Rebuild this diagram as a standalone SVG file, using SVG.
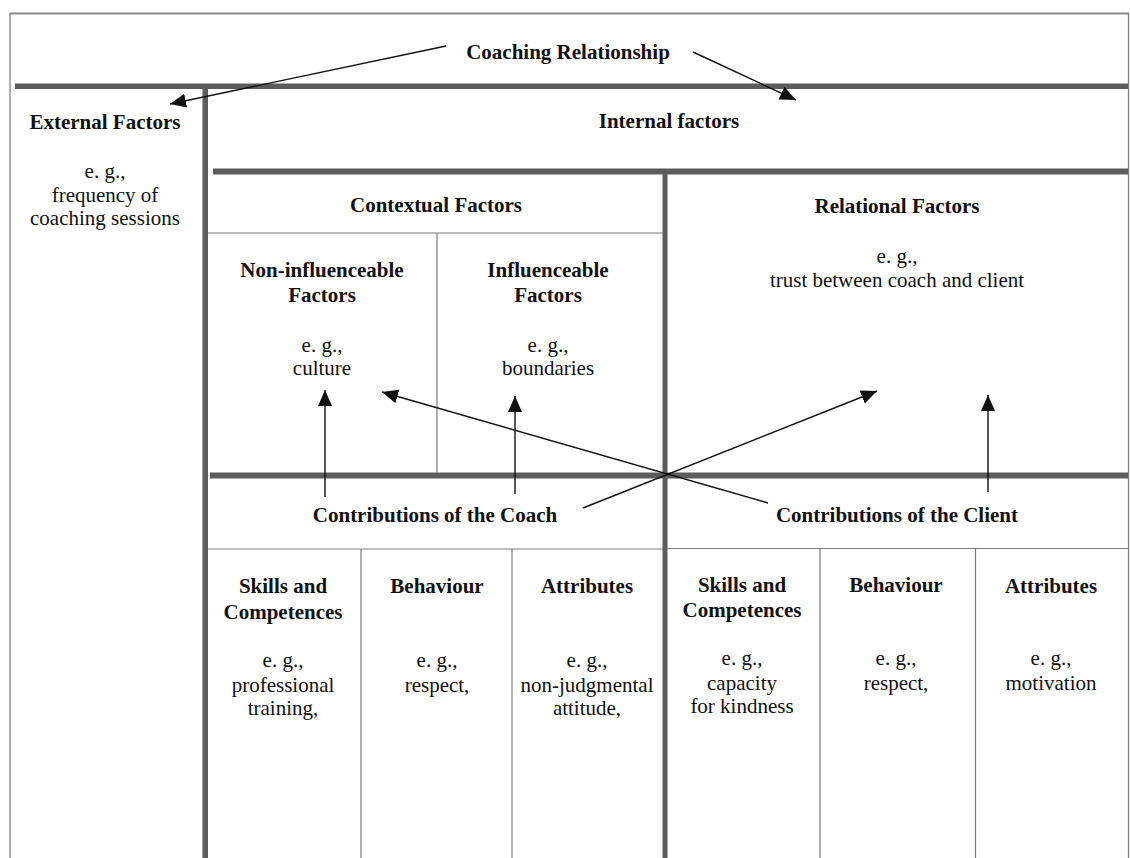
<svg xmlns="http://www.w3.org/2000/svg" width="1130" height="858" viewBox="0 0 1130 858">
<style>
.bar{fill:#5c5c5c}
.thin{stroke:#7a7a7a;stroke-width:1.2;fill:none}
text{font-family:'Liberation Serif','Tinos','DejaVu Serif','Times New Roman',serif;font-size:21px;fill:#111;text-anchor:middle}
.h{font-weight:bold}
.arr{stroke:#111;stroke-width:1.4;fill:none;marker-end:url(#ah)}
</style>
<defs>
<marker id="ah" markerUnits="userSpaceOnUse" markerWidth="17" markerHeight="15" refX="16" refY="7" orient="auto">
<path d="M0,0 L16,7 L0,14 z" fill="#111"/>
</marker>
</defs>
<rect width="1130" height="858" fill="#fff"/>
<g id="frame">
<line x1="10" y1="13.5" x2="1129" y2="13.5" stroke="#888" stroke-width="2"/>
<line class="thin" x1="10" y1="13" x2="10" y2="858"/>
<line class="thin" x1="1128.5" y1="13" x2="1128.5" y2="858"/>
<rect class="bar" x="15" y="83.5" width="1113" height="5.5"/>
<rect class="bar" x="202.5" y="89" width="5.5" height="769"/>
<rect class="bar" x="213" y="168.5" width="915" height="6"/>
<rect class="bar" x="662.5" y="174" width="5" height="684"/>
<rect class="bar" x="210" y="472.5" width="918" height="6"/>
<line class="thin" x1="208" y1="233" x2="663" y2="233"/>
<line class="thin" x1="437" y1="233" x2="437" y2="472.5"/>
<line class="thin" x1="208" y1="549" x2="663" y2="549"/>
<line class="thin" x1="667" y1="548.5" x2="1128" y2="548.5"/>
<line class="thin" x1="361" y1="549" x2="361" y2="858"/>
<line class="thin" x1="512" y1="549" x2="512" y2="858"/>
<line class="thin" x1="820" y1="548.5" x2="820" y2="858"/>
<line class="thin" x1="975.5" y1="548.5" x2="975.5" y2="858"/>
</g>
<g id="coaching-relationship"><text class="h" x="568" y="59">Coaching Relationship</text></g>
<g id="external-factors">
<text class="h" x="105" y="129">External Factors</text>
<text x="105" y="178">e. g.,</text>
<text x="105" y="202">frequency of</text>
<text x="105" y="225">coaching sessions</text>
</g>
<g id="internal-factors"><text class="h" x="669" y="128">Internal factors</text></g>
<g id="contextual-factors"><text class="h" x="436" y="212">Contextual Factors</text></g>
<g id="relational-factors">
<text class="h" x="897" y="213">Relational Factors</text>
<text x="897" y="263">e. g.,</text>
<text x="897" y="287">trust between coach and client</text>
</g>
<g id="non-influenceable">
<text class="h" x="322" y="277">Non-influenceable</text>
<text class="h" x="322" y="302">Factors</text>
<text x="322" y="352">e. g.,</text>
<text x="322" y="375">culture</text>
</g>
<g id="influenceable">
<text class="h" x="548" y="277">Influenceable</text>
<text class="h" x="548" y="302">Factors</text>
<text x="548" y="352">e. g.,</text>
<text x="548" y="375">boundaries</text>
</g>
<g id="coach"><text class="h" x="435" y="522">Contributions of the Coach</text></g>
<g id="client"><text class="h" x="897" y="522">Contributions of the Client</text></g>
<g id="coach-skills">
<text class="h" x="283" y="593">Skills and</text>
<text class="h" x="283" y="619">Competences</text>
<text x="283" y="667">e. g.,</text>
<text x="283" y="692">professional</text>
<text x="283" y="715">training,</text>
</g>
<g id="coach-behaviour">
<text class="h" x="437" y="593">Behaviour</text>
<text x="437" y="667">e. g.,</text>
<text x="437" y="692">respect,</text>
</g>
<g id="coach-attributes">
<text class="h" x="587" y="593">Attributes</text>
<text x="587" y="667">e. g.,</text>
<text x="587" y="692">non-judgmental</text>
<text x="587" y="715">attitude,</text>
</g>
<g id="client-skills">
<text class="h" x="742" y="592">Skills and</text>
<text class="h" x="742" y="617">Competences</text>
<text x="742" y="665">e. g.,</text>
<text x="742" y="690">capacity</text>
<text x="742" y="713">for kindness</text>
</g>
<g id="client-behaviour">
<text class="h" x="896" y="592">Behaviour</text>
<text x="896" y="665">e. g.,</text>
<text x="896" y="690">respect,</text>
</g>
<g id="client-attributes">
<text class="h" x="1051" y="593">Attributes</text>
<text x="1051" y="665">e. g.,</text>
<text x="1051" y="690">motivation</text>
</g>
<g id="connectors">
<line class="arr" x1="446" y1="46" x2="170" y2="104"/>
<line class="arr" x1="693" y1="52" x2="796" y2="100"/>
<line class="arr" x1="325" y1="497" x2="325" y2="390"/>
<line class="arr" x1="515" y1="494" x2="515" y2="396"/>
<line class="arr" x1="583" y1="508" x2="877" y2="391"/>
<line class="arr" x1="768" y1="503" x2="382" y2="392"/>
<line class="arr" x1="988" y1="492" x2="988" y2="395"/>
</g>
</svg>
